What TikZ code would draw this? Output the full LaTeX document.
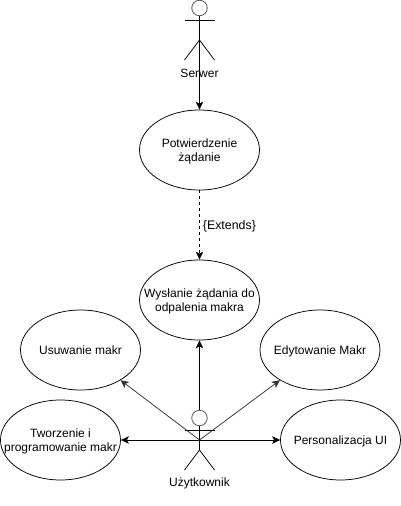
\documentclass[tikz,border=0pt]{standalone}
\usepackage{fontspec}
\setmainfont{Liberation Sans}
\usetikzlibrary{arrows.meta,shapes.geometric}
\newcommand\uctext[1]{\makebox[0pt]{\raisebox{-4.5pt}[0pt][0pt]{\begin{tabular}{@{}c@{}}#1\end{tabular}}}}
\tikzset{
  x=1pt,y=-1pt,
  usecase/.style={draw=black,line width=0.75pt,ellipse,minimum width=120pt,minimum height=80pt,inner sep=0pt,font=\fontsize{12}{14}\selectfont,text=black},
  actorhead/.style={draw=black!65,line width=0.8pt,circle,minimum size=15.5pt,inner sep=0pt},
  actorline/.style={draw=black,line width=0.75pt},
  actorlabel/.style={inner sep=0pt,font=\fontsize{12}{14}\selectfont},
  link/.style={draw=black,line width=0.75pt,-{Stealth[length=8pt,width=7.5pt,inset=2pt]}},
  diag/.style={link,draw=black!80},
}
\begin{document}
\begin{tikzpicture}
\useasboundingbox (0,0) rectangle (401,506);
\node[usecase] (conf) at (199.5,150) {\uctext{Potwierdzenie\\żądanie}};
\node[usecase] (send) at (199.5,300) {\uctext{Wysłanie żądania do\\odpalenia makra}};
\node[usecase] (del) at (80.5,350) {\uctext{Usuwanie makr}};
\node[usecase] (edit) at (320,350) {\uctext{Edytowanie Makr}};
\node[usecase] (prog) at (60.5,440) {\uctext{Tworzenie i\\programowanie makr}};
\node[usecase] (ui) at (340.5,440) {\uctext{Personalizacja UI}};
% Serwer
\node[actorhead] (shead) at (199.5,8) {};
\coordinate (scentre) at (199.5,40);
\coordinate (sarmL) at (184.5,20);
\coordinate (sarmR) at (214.5,20);
\coordinate (slegL) at (184.5,60);
\coordinate (slegR) at (214.5,60);
\draw[actorline] (sarmL) -- (sarmR);
\draw[actorline] (slegL) -- (scentre) -- (slegR);
\node[actorlabel] (slabel) at (199.5,73.5) {Serwer};
\draw[link] (shead.south) -- (conf.north);
\draw[link,dashed,dash pattern=on 3pt off 3pt] (conf.south) -- node[right=3pt,yshift=-1pt,inner sep=0pt,font=\fontsize{12.4}{14}\selectfont] (ext) {\{Extends\}} (send.north);
% Uzytkownik
\node[actorhead] (uhead) at (199.5,418) {};
\coordinate (ucentre) at (199.5,440);
\coordinate (uneck) at (199.5,426);
\coordinate (uhip) at (199.5,450);
\coordinate (uarmL) at (184.5,430);
\coordinate (uarmR) at (214.5,430);
\coordinate (ulegL) at (184.5,470);
\coordinate (ulegR) at (214.5,470);
\draw[actorline] (uarmL) -- (uarmR);
\draw[actorline] (uneck) -- (uhip);
\draw[actorline] (ulegL) -- (uhip) -- (ulegR);
\node[actorlabel] (ulabel) at (199.5,483.5) {Użytkownik};
\draw[link] (uhead.north) -- (send.south);
\draw[diag] (ucentre) -- (del.-37);
\draw[diag] (ucentre) -- (edit.217);
\draw[link] (ucentre) -- (prog.east);
\draw[link] (ucentre) -- (ui.west);
\end{tikzpicture}
\end{document}
